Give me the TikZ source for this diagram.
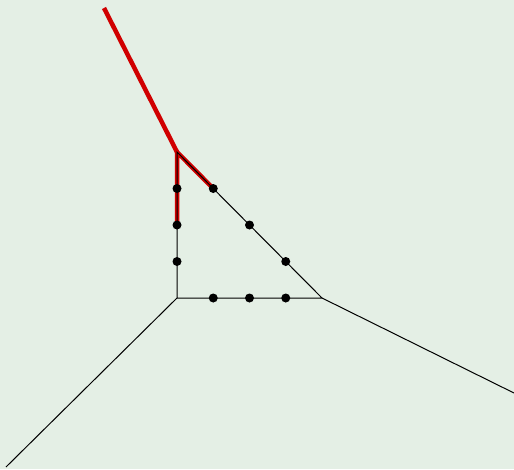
\documentclass[tikz,border=0pt]{standalone}
\usetikzlibrary{calc}
\definecolor{bgmint}{HTML}{E4EFE5}
\definecolor{pathred}{HTML}{D00000}
\begin{document}
\begin{tikzpicture}[
  x=1pt, y=-1pt,
  edge/.style={draw=black, line width=1pt},
  hot/.style={draw=pathred, line width=4.5pt},
  vtx/.style={circle, fill=black, inner sep=0pt, minimum size=9pt}
]

% Background and frame
\fill[bgmint] (0,0) rectangle (514,469);
\useasboundingbox (0,0) rectangle (514,469);

% Triangle corners and far ends
\coordinate (a) at (177,152);
\coordinate (b) at (177,298);
\coordinate (c) at (322,298);
\coordinate (ea) at (104,8);
\coordinate (eb) at (6,467);
\coordinate (ec) at (514,393);

% Subdivision points on each side
\foreach \i/\t in {1/0.25, 2/0.5, 3/0.75} {
  \coordinate (ab\i) at ($(a)!\t!(b)$);
  \coordinate (bc\i) at ($(b)!\t!(c)$);
  \coordinate (ac\i) at ($(a)!\t!(c)$);
}

% Highlighted path
\draw[hot] (ea) -- (a);
\draw[hot] (ab2) -- (a) -- (ac1);

% Triangle and legs
\draw[edge] (a) -- (b) -- (c) -- cycle;
\draw[edge] (b) -- (eb);
\draw[edge] (c) -- (ec);

% Dots
\foreach \i in {1,2,3} {
  \node[vtx] (pab\i) at (ab\i) {};
  \node[vtx] (pbc\i) at (bc\i) {};
  \node[vtx] (pac\i) at (ac\i) {};
}

\end{tikzpicture}
\end{document}
